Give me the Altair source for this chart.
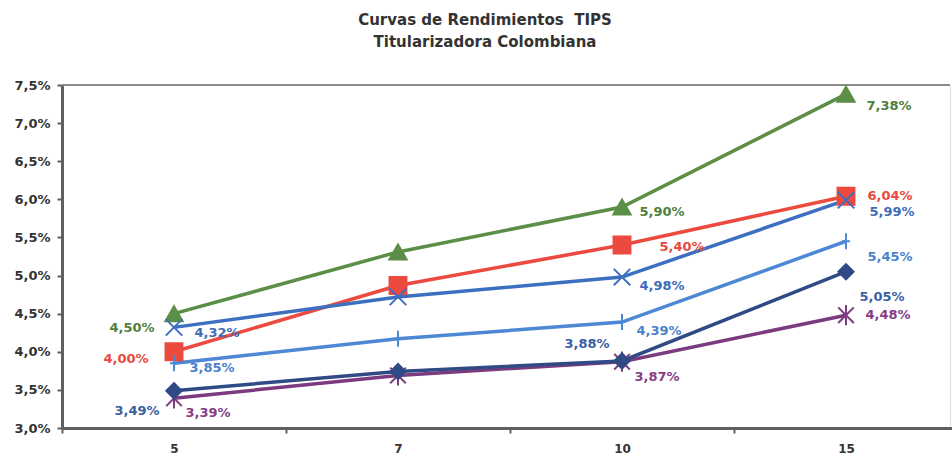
import altair as alt
import pandas as pd

# ---- data ----
categories = ["5", "7", "10", "15"]
series_names = ["S1", "S2", "S3", "S4", "S5", "S6"]
green_vals = [4.50, 5.31, 5.90, 7.38]
red_vals = [4.00, 4.87, 5.40, 6.04]
blue_vals = [4.32, 4.72, 4.98, 5.99]
lightblue_vals = [3.85, 4.17, 4.39, 5.45]
navy_vals = [3.49, 3.74, 3.88, 5.05]
purple_vals = [3.39, 3.69, 3.87, 4.48]
y_ticks = [3.0, 3.5, 4.0, 4.5, 5.0, 5.5, 6.0, 6.5, 7.0, 7.5]
title_lines = ["Curvas de Rendimientos \u00a0TIPS", "Titularizadora Colombiana"]

all_vals = [green_vals, red_vals, blue_vals, lightblue_vals, purple_vals, navy_vals]
names = [series_names[0], series_names[1], series_names[2], series_names[3], series_names[5], series_names[4]]

# ---- styles ----
line_colors = ["#5b8e47", "#ec4a3e", "#3d6fc1", "#4d88d4", "#7d3b7f", "#2f4a85"]
label_colors = ["#4f8040", "#e84a40", "#3e6db8", "#4a82cc", "#853d85", "#3a5fa5"]
shapes = ["triangle-up", "square", "M-1,-1L1,1M-1,1L1,-1", "M-0.5,0L0.5,0M0,-1L0,1",
          "M-1,-1L1,1M-1,1L1,-1M0,-1.3L0,1.3", "diamond"]
sizes = [300, 230, 220, 300, 230, 320]

# label offsets (series index, category index) -> (dx, dy)
label_offsets = {
    (0, 0): (-42, 14), (0, 2): (40, 5), (0, 3): (43, 12),
    (1, 0): (-48, 7), (1, 2): (60, 2), (1, 3): (44, 0),
    (2, 0): (43, 6), (2, 2): (40, 9), (2, 3): (46, 12),
    (3, 0): (38, 5), (3, 2): (37, 9), (3, 3): (44, 16),
    (4, 0): (34, 15), (4, 2): (35, 15), (4, 3): (42, 0),
    (5, 0): (-37, 20), (5, 2): (-35, -17), (5, 3): (36, 25),
}

rows = []
for name, vals in zip(names, all_vals):
    for c, v in zip(categories, vals):
        rows.append({"series": name, "cat": c, "value": v,
                     "label": f"{v:.2f}%".replace(".", ",")})
df = pd.DataFrame(rows)

FONT = "DejaVu Sans"
AX = "#5f5f5f"

def xenc():
    return alt.X("cat:O", sort=categories,
                 scale=alt.Scale(type="band", domain=categories, paddingInner=0,
                                 paddingOuter=0, range=[0, 896]),
                 axis=alt.Axis(title=None, labelAngle=0, tickBand="extent", tickSize=5,
                               labelPadding=10, domainWidth=3, domainColor=AX,
                               tickColor=AX, tickWidth=2, labelFont=FONT,
                               labelFontWeight="bold", labelFontSize=12,
                               labelColor="#333333", grid=False))

def yenc(field="value:Q"):
    return alt.Y(field, scale=alt.Scale(domain=[3.0, 7.5], nice=False, zero=False),
                 axis=alt.Axis(title=None, values=y_ticks, grid=False, tickSize=5,
                               tickColor=AX, tickWidth=2, domainWidth=3, domainColor=AX,
                               labelPadding=7, labelFont=FONT, labelFontWeight="bold",
                               labelFontSize=13, labelColor="#333333",
                               labelExpr="replace(format(datum.value, '.1f'), '.', ',') + '%'"))

cscale = alt.Scale(domain=names, range=line_colors)

border = alt.Chart(pd.DataFrame({"value": [7.5]})).mark_rule(
    color="#8a8a8a", strokeWidth=2).encode(y=yenc())

lines = alt.Chart(df).mark_line(strokeWidth=3.5).encode(
    x=xenc(), y=yenc(),
    color=alt.Color("series:N", scale=cscale, legend=None),
    detail="series:N",
)

points = alt.Chart(df).mark_point(filled=True, strokeWidth=2, opacity=1).encode(
    x=xenc(), y=yenc(),
    color=alt.Color("series:N", scale=cscale, legend=None),
    stroke=alt.Stroke("series:N", scale=cscale, legend=None),
    shape=alt.Shape("series:N", scale=alt.Scale(domain=names, range=shapes), legend=None),
    size=alt.Size("series:N", scale=alt.Scale(domain=names, range=sizes), legend=None),
)

label_layers = []
for (si, ci), (dx, dy) in label_offsets.items():
    sub = df[(df["series"] == names[si]) & (df["cat"] == categories[ci])]
    label_layers.append(
        alt.Chart(sub).mark_text(font=FONT, fontWeight="bold", fontSize=13,
                                 color=label_colors[si], dx=dx, dy=dy,
                                 align="center", baseline="middle").encode(
            x=xenc(), y=yenc(), text="label:N")
    )

chart = alt.layer(border, lines, points, *label_layers).properties(
    width=888, height=343,
    title=alt.TitleParams(text=title_lines, font=FONT, fontSize=15, fontWeight="bold",
                          color="#333333", anchor="middle", dx=-21, offset=29,
                          lineHeight=22),
    autosize=alt.AutoSizeParams(type="none"),
    padding={"left": 62, "top": 85, "right": 2, "bottom": 32},
).configure_view(stroke=None).configure(background="white")

chart.save("out.html", embed_options={"renderer": "svg", "actions": False})
